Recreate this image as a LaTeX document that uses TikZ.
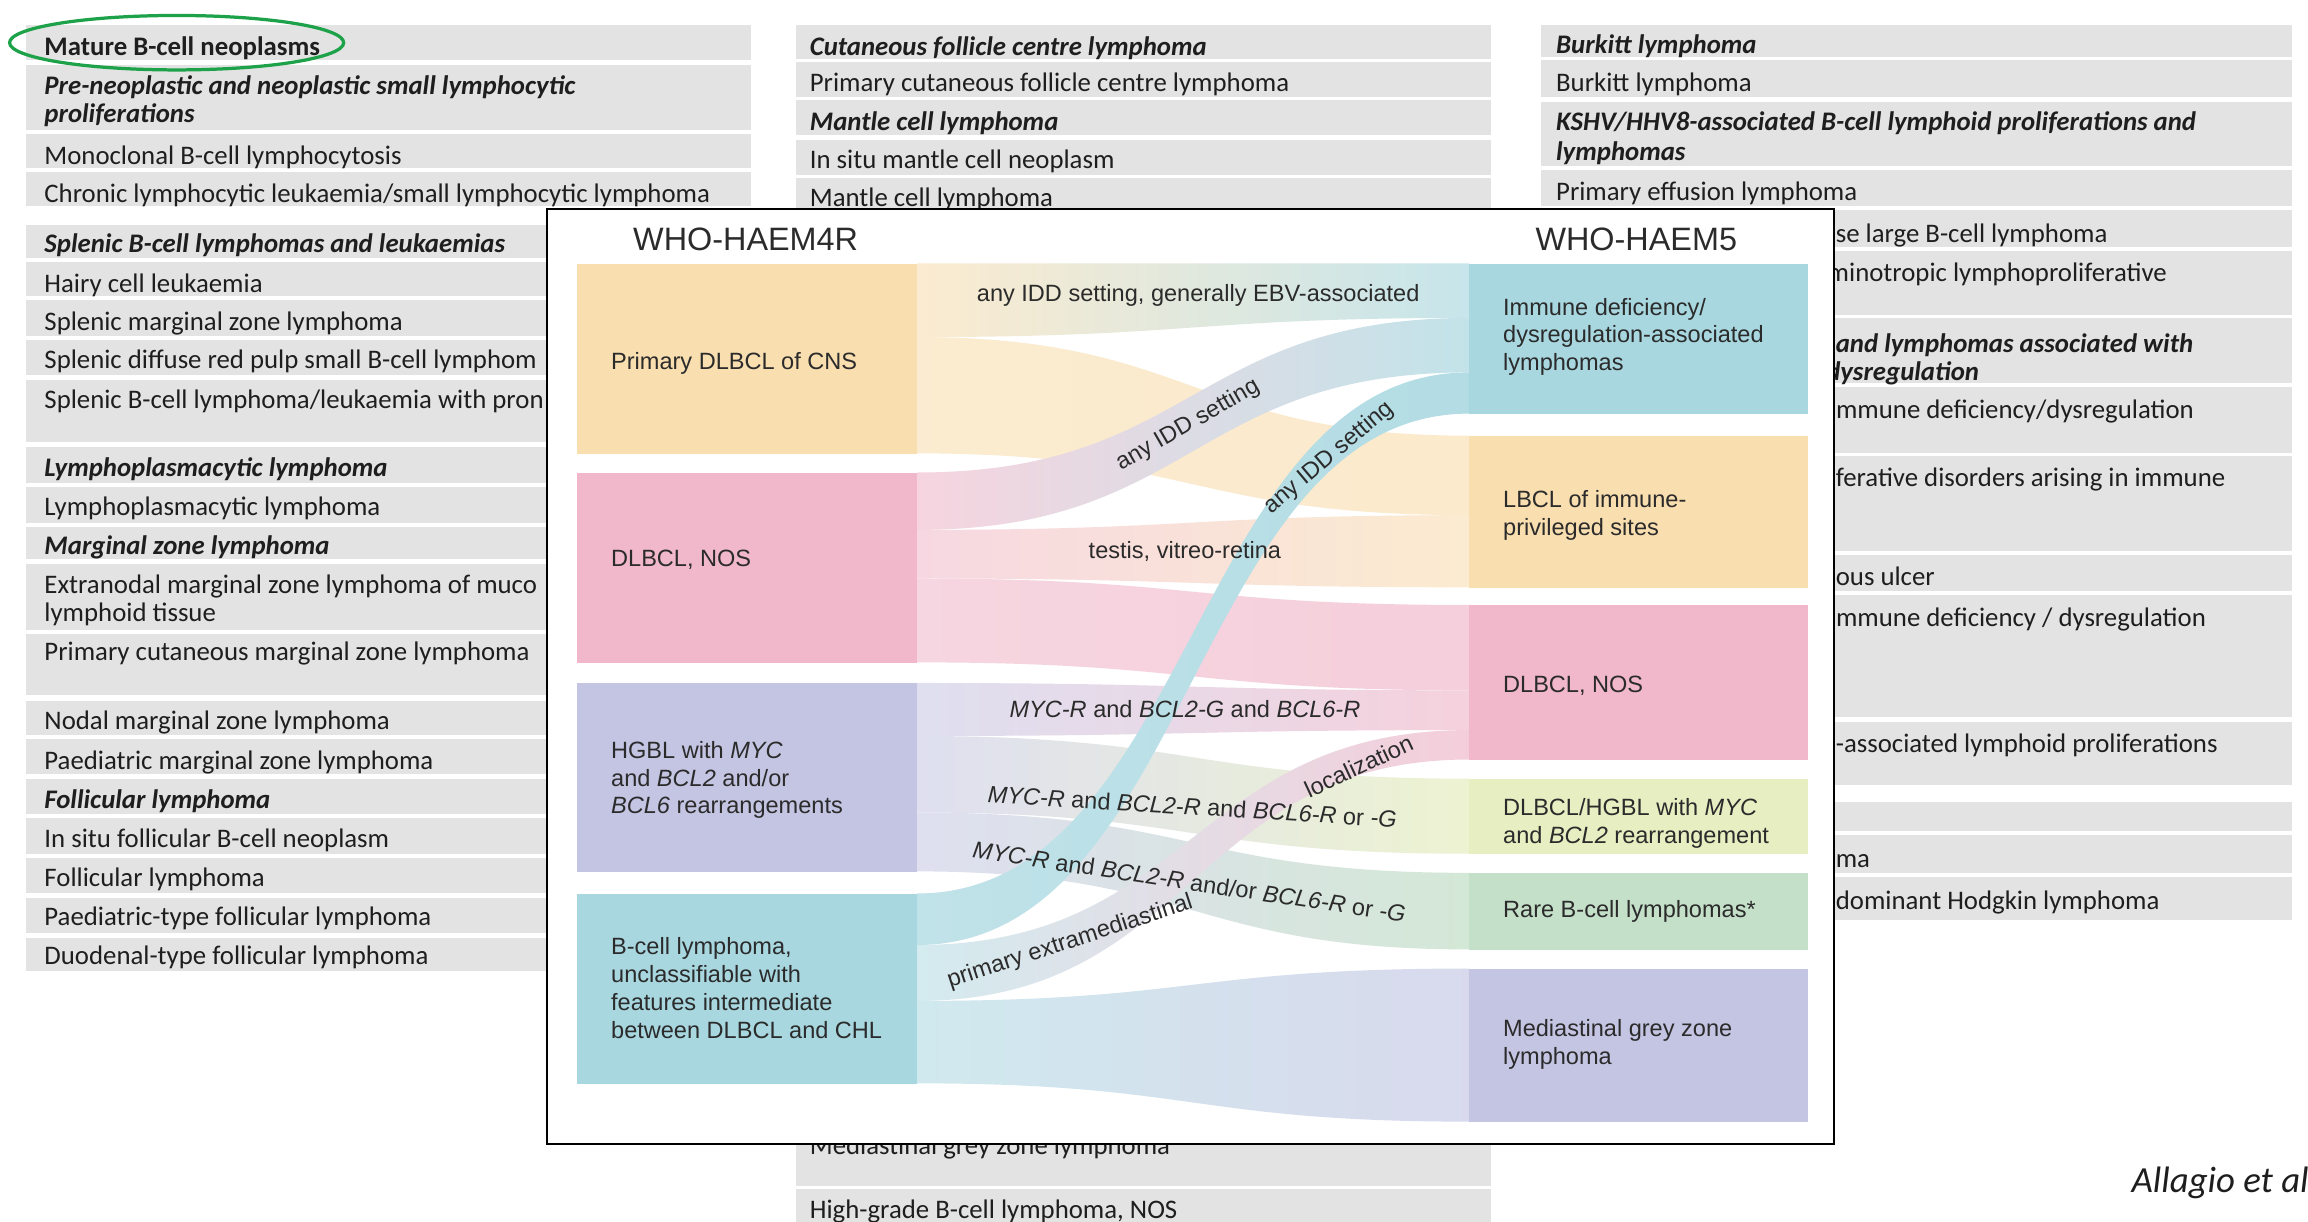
\documentclass[tikz,border=0pt]{standalone}
\usepackage{fontspec}
\setmainfont{Liberation Sans}
\newfontfamily\tabfont{Carlito}
\newfontfamily\skfont{Liberation Sans}
\definecolor{tabgrey}{HTML}{E3E3E3}
\definecolor{orangeB}{HTML}{F9DEB0}
\definecolor{pinkB}{HTML}{F0B8CA}
\definecolor{lavB}{HTML}{C4C5E3}
\definecolor{blueB}{HTML}{A8D7E0}
\definecolor{yelB}{HTML}{E7EFC2}
\definecolor{greenB}{HTML}{C5E0C9}
\definecolor{txtdark}{HTML}{1E1E1E}
\definecolor{sktxt}{HTML}{2B2B2B}
\definecolor{ellgreen}{HTML}{1DA24A}
\newcommand\myrow[4]{\fill[tabgrey] (#1,#3) rectangle (#2,#4);}
\newcommand\mytext[5]{\node[#4] (#1) at (#2,#3) {#5};}
\newcommand\myband[6]{\shade[left color=#5, right color=#6] (623,#1) .. controls (810.5,#1) and (810.5,#3) .. (998,#3) -- (998,#4) .. controls (810.5,#4) and (810.5,#2) .. (623,#2) -- cycle;}
\tikzset{
  tabn/.style={anchor=base west, inner sep=0pt, yshift=-1.5pt, text=txtdark, font=\tabfont\fontsize{18.2}{21}\selectfont},
  tabh/.style={anchor=base west, inner sep=0pt, yshift=-1.5pt, text=txtdark, font=\tabfont\bfseries\itshape\fontsize{18.2}{21}\selectfont},
  tabb/.style={anchor=base west, inner sep=0pt, yshift=-1.5pt, text=txtdark, font=\tabfont\bfseries\fontsize{18.2}{21}\selectfont},
  sbox/.style={rectangle, inner sep=0pt, draw=none, anchor=north west},
  slab/.style={anchor=base west, inner sep=0pt, text=sktxt, font=\skfont\fontsize{16}{19}\selectfont},
  flab/.style={inner sep=0pt, text=sktxt, font=\skfont\fontsize{16}{19}\selectfont},
  sktitle/.style={anchor=base west, inner sep=0pt, text=sktxt, font=\skfont\fontsize{22}{26}\selectfont},
}
\begin{document}
\begin{tikzpicture}[x=1pt,y=-1pt]
\useasboundingbox (0,0) rectangle (1568,830);
\fill[white] (0,0) rectangle (1568,830);
% ---------- left table column
\myrow{18}{510}{17}{41}
\myrow{18}{510}{44}{88}
\myrow{18}{510}{91}{114}
\myrow{18}{510}{117}{140}
\myrow{18}{510}{153}{175}
\myrow{18}{510}{178}{201}
\myrow{18}{510}{204}{228}
\myrow{18}{510}{231}{255}
\myrow{18}{510}{258}{300}
\myrow{18}{510}{304}{328}
\myrow{18}{510}{331}{355}
\myrow{18}{510}{358}{380}
\myrow{18}{510}{383}{428}
\myrow{18}{510}{431}{472}
\myrow{18}{510}{476}{499}
\myrow{18}{510}{502}{526}
\myrow{18}{510}{529}{553}
\myrow{18}{510}{556}{580}
\myrow{18}{510}{583}{607}
\myrow{18}{510}{610}{634}
\myrow{18}{510}{637}{660}
\mytext{a1}{30}{36}{tabb}{Mature B-cell neoplasms}
\mytext{a2}{30}{62.5}{tabh}{Pre-neoplastic and neoplastic small lymphocytic}
\mytext{a2b}{30}{81.5}{tabh}{proliferations}
\mytext{a3}{30}{110}{tabn}{Monoclonal B-cell lymphocytosis}
\mytext{a4}{30}{136}{tabn}{Chronic lymphocytic leukaemia/small lymphocytic lymphoma}
\mytext{a5}{30}{170}{tabh}{Splenic B-cell lymphomas and leukaemias}
\mytext{a6}{30}{197}{tabn}{Hairy cell leukaemia}
\mytext{a7}{30}{223}{tabn}{Splenic marginal zone lymphoma}
\mytext{a8}{30}{249}{tabn}{Splenic diffuse red pulp small B-cell lymphom}
\mytext{a9}{30}{276}{tabn}{Splenic B-cell lymphoma/leukaemia with pron}
\mytext{a10}{30}{322}{tabh}{Lymphoplasmacytic lymphoma}
\mytext{a11}{30}{349}{tabn}{Lymphoplasmacytic lymphoma}
\mytext{a12}{30}{375.5}{tabh}{Marginal zone lymphoma}
\mytext{a13}{30}{402}{tabn}{Extranodal marginal zone lymphoma of muco}
\mytext{a13b}{30}{420.5}{tabn}{lymphoid tissue}
\mytext{a14}{30}{447.5}{tabn}{Primary cutaneous marginal zone lymphoma}
\mytext{a15}{30}{494}{tabn}{Nodal marginal zone lymphoma}
\mytext{a16}{30}{521}{tabn}{Paediatric marginal zone lymphoma}
\mytext{a17}{30}{547.5}{tabh}{Follicular lymphoma}
\mytext{a18}{30}{574}{tabn}{In situ follicular B-cell neoplasm}
\mytext{a19}{30}{601}{tabn}{Follicular lymphoma}
\mytext{a20}{30}{627.5}{tabn}{Paediatric-type follicular lymphoma}
\mytext{a21}{30}{654}{tabn}{Duodenal-type follicular lymphoma}
% ---------- middle table column
\myrow{541}{1013}{17}{40}
\myrow{541}{1013}{42}{66}
\myrow{541}{1013}{68}{92}
\myrow{541}{1013}{95}{119}
\myrow{541}{1013}{121}{150}
\myrow{541}{1013}{770}{806}
\myrow{541}{1013}{808}{840}
\mytext{b1}{550}{36}{tabh}{Cutaneous follicle centre lymphoma}
\mytext{b2}{550}{61}{tabn}{Primary cutaneous follicle centre lymphoma}
\mytext{b3}{550}{87}{tabh}{Mantle cell lymphoma}
\mytext{b4}{550}{113}{tabn}{In situ mantle cell neoplasm}
\mytext{b5}{550}{139}{tabn}{Mantle cell lymphoma}
\mytext{b6}{550}{783}{tabn}{Mediastinal grey zone lymphoma}
\mytext{b7}{550}{826}{tabn}{High-grade B-cell lymphoma, NOS}
% ---------- right table column
\myrow{1047}{1557}{17}{38.5}
\myrow{1047}{1557}{41}{66}
\myrow{1047}{1557}{69}{113}
\myrow{1047}{1557}{115.5}{140}
\myrow{1047}{1557}{143}{168}
\myrow{1047}{1557}{170.5}{214}
\myrow{1047}{1557}{216}{260}
\myrow{1047}{1557}{263}{308}
\myrow{1047}{1557}{310}{374}
\myrow{1047}{1557}{377}{401.5}
\myrow{1047}{1557}{404}{487}
\myrow{1047}{1557}{490.5}{533}
\myrow{1047}{1557}{545}{564.5}
\myrow{1047}{1557}{567}{593}
\myrow{1047}{1557}{596}{625}
\mytext{c1}{1057}{35}{tabh}{Burkitt lymphoma}
\mytext{c2}{1057}{61}{tabn}{Burkitt lymphoma}
\mytext{c3}{1057}{87}{tabh}{KSHV/HHV8-associated B-cell lymphoid proliferations and}
\mytext{c3b}{1057}{107.5}{tabh}{lymphomas}
\mytext{c4}{1057}{135}{tabn}{Primary effusion lymphoma}
\mytext{c5}{1247}{163}{tabn}{se large B-cell lymphoma}
\mytext{c6}{1241.5}{190}{tabn}{minotropic lymphoproliferative}
\mytext{c7}{1247}{238}{tabh}{and lymphomas associated with}
\mytext{c7b}{1240.5}{257}{tabh}{dysregulation}
\mytext{c8}{1243}{283}{tabn}{immune deficiency/dysregulation}
\mytext{c9}{1247}{329}{tabn}{ferative disorders arising in immune}
\mytext{c10}{1247}{396}{tabn}{ous ulcer}
\mytext{c11}{1243}{424}{tabn}{immune deficiency / dysregulation}
\mytext{c12}{1247}{510}{tabn}{-associated lymphoid proliferations}
\mytext{c13}{1247}{588}{tabn}{ma}
\mytext{c14}{1247}{616.5}{tabn}{dominant Hodgkin lymphoma}
% ---------- green ellipse and citation
\draw[ellgreen, line width=2.2pt] (120,29) ellipse [x radius=113.5, y radius=18.5];
\node[anchor=base west, inner sep=0pt, text=txtdark, font=\tabfont\itshape\fontsize{25}{29}\selectfont] (cite) at (1448,810) {Allagio et al};
% ---------- framed Sankey panel
\node[draw=black, line width=1.3pt, fill=white, inner sep=0pt, minimum width=874pt, minimum height=635pt, anchor=north west] (frame) at (371,141.5) {};
\node[sktitle] (t4r) at (430,170) {WHO-HAEM4R};
\node[sktitle] (t5) at (1043,170) {WHO-HAEM5};
% flows
\myband{179}{229}{179}{216}{orangeB!60}{blueB!65}
\myband{229}{308}{296}{350}{orangeB!60}{orangeB!65}
\myband{360}{393}{350}{399}{pinkB!55}{orangeB!60}
\myband{393}{450}{411}{469}{pinkB!58}{pinkB!68}
\myband{464}{500}{469}{496}{lavB!55}{pinkB!65}
\myband{500}{552}{529}{580}{lavB!55}{yelB!75}
\myband{552}{592}{593}{645}{lavB!55}{greenB!75}
\myband{680}{736}{658}{762}{blueB!55}{lavB!65}
\myband{321}{360}{216}{253}{pinkB!60}{blueB!70}
\myband{642}{680}{496}{516}{blueB!50}{pinkB!70}
\myband{607}{642}{253}{281}{blueB!72}{blueB!88}
% left boxes
\node[sbox, fill=orangeB, minimum width=231pt, minimum height=129pt] (Lcns) at (392,179) {};
\node[sbox, fill=pinkB, minimum width=231pt, minimum height=129pt] (Lnos) at (392,321) {};
\node[sbox, fill=lavB, minimum width=231pt, minimum height=128pt] (Lhgbl) at (392,464) {};
\node[sbox, fill=blueB, minimum width=231pt, minimum height=129pt] (Lbcu) at (392,607) {};
% right boxes
\node[sbox, fill=blueB, minimum width=230pt, minimum height=102pt] (Ridd) at (998,179) {};
\node[sbox, fill=orangeB, minimum width=230pt, minimum height=103pt] (Rlbcl) at (998,296) {};
\node[sbox, fill=pinkB, minimum width=230pt, minimum height=105pt] (Rnos) at (998,411) {};
\node[sbox, fill=yelB, minimum width=230pt, minimum height=51pt] (Rdh) at (998,529) {};
\node[sbox, fill=greenB, minimum width=230pt, minimum height=52pt] (Rrare) at (998,593) {};
\node[sbox, fill=lavB, minimum width=230pt, minimum height=104pt] (Rmgz) at (998,658) {};
% box labels
\node[slab] (Lcns1) at (415,251) {Primary DLBCL of CNS};
\node[slab] (Lnos1) at (415,385) {DLBCL, NOS};
\node[slab] (Lhgbl1) at (415,515) {HGBL with \textit{MYC}};
\node[slab] (Lhgbl2) at (415,534) {and \textit{BCL2} and/or};
\node[slab] (Lhgbl3) at (415,553) {\textit{BCL6} rearrangements};
\node[slab] (Lbcu1) at (415,648.5) {B-cell lymphoma,};
\node[slab] (Lbcu2) at (415,667.5) {unclassifiable with};
\node[slab] (Lbcu3) at (415,686.5) {features intermediate};
\node[slab] (Lbcu4) at (415,705.5) {between DLBCL and CHL};
\node[slab] (Ridd1) at (1021,214) {Immune deficiency/};
\node[slab] (Ridd2) at (1021,233) {dysregulation-associated};
\node[slab] (Ridd3) at (1021,252) {lymphomas};
\node[slab] (Rlbcl1) at (1021,344.5) {LBCL of immune-};
\node[slab] (Rlbcl2) at (1021,363.5) {privileged sites};
\node[slab] (Rnos1) at (1021,470.5) {DLBCL, NOS};
\node[slab] (Rdh1) at (1021,554) {DLBCL/HGBL with \textit{MYC}};
\node[slab] (Rdh2) at (1021,573) {and \textit{BCL2} rearrangement};
\node[slab] (Rrare1) at (1021,623.5) {Rare B-cell lymphomas*};
\node[slab] (Rmgz1) at (1021,704.5) {Mediastinal grey zone};
\node[slab] (Rmgz2) at (1021,723) {lymphoma};
% flow labels
\node[flab, anchor=base] (f1) at (814,204.5) {any IDD setting, generally EBV-associated};
\node[flab, rotate=30] (f2) at (807,289) {any IDD setting};
\node[flab, rotate=40] (f3) at (903,311) {any IDD setting};
\node[flab, anchor=base] (f4) at (805,379.5) {testis, vitreo-retina};
\node[flab, anchor=base] (f5) at (805,487.5) {\textit{MYC-R} and \textit{BCL2-G} and \textit{BCL6-R}};
\node[flab, rotate=-3.5] (f6) at (810,548) {\textit{MYC-R} and \textit{BCL2-R} and \textit{BCL6-R} or \textit{-G}};
\node[flab, rotate=-8.5] (f7) at (808,599) {\textit{MYC-R} and \textit{BCL2-R} and/or \textit{BCL6-R} or \textit{-G}};
\node[flab, rotate=25] (f8) at (923,520.5) {localization};
\node[flab, rotate=18] (f9) at (727,640) {primary extramediastinal};
\end{tikzpicture}
\end{document}
